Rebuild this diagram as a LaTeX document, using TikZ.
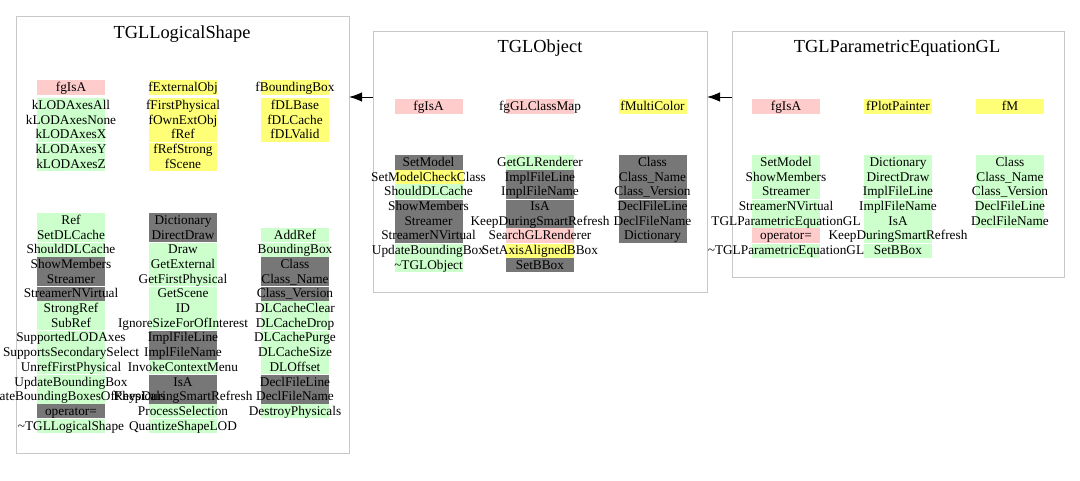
\documentclass[tikz,border=0pt]{standalone}
\usepackage{fontspec}
\setmainfont{Liberation Serif}
\usetikzlibrary{arrows.meta}
\pgfdeclarelayer{bg}
\pgfsetlayers{bg,main}
\definecolor{pk}{RGB}{255,204,204}
\definecolor{yl}{RGB}{255,255,119}
\definecolor{gn}{RGB}{204,255,204}
\definecolor{dg}{RGB}{119,119,119}
\definecolor{cbord}{RGB}{200,200,200}
\newcounter{cellno}
\newcommand\mycell[4]{%
  \stepcounter{cellno}%
  \begin{pgfonlayer}{bg}\fill[#3] (#1-34,#2-7.33) rectangle (#1+34,#2+7.33);\end{pgfonlayer}
  \node[lbl] (c\arabic{cellno}) at (#1,#2+4.3) {#4};}
\newcommand\mycol[3]{%
  \foreach \cellc/\cellt [count=\ii from 0] in {#3} {\mycell{#1}{#2+7.33+\ii*14.67}{\cellc}{\cellt}}}
\tikzset{
  lbl/.style={anchor=base, inner sep=0pt, font=\fontsize{13.3}{15}\selectfont},
  ttl/.style={anchor=base, inner sep=0pt, font=\fontsize{18.4}{20}\selectfont},
  frame/.style={draw=cbord, line width=1pt, inner sep=0pt, outer sep=0pt, anchor=north west},
  arr/.style={-{Latex[length=13pt,width=9.5pt]}, line width=1pt, black},
  gapline/.style={white, line width=0.8pt}
}
\begin{document}
\begin{tikzpicture}[x=1pt,y=-1pt]
\begin{pgfonlayer}{bg}
\fill[white] (0,0) rectangle (1080,480);
\end{pgfonlayer}
\useasboundingbox (0,0) rectangle (1080,480);
% boxes
\node[frame, minimum width=333pt, minimum height=437pt] (shapebox) at (16,16) {};
\node[frame, minimum width=334pt, minimum height=261pt] (objbox) at (373,31) {};
\node[frame, minimum width=332pt, minimum height=245.5pt] (parbox) at (732,31.5) {};
% titles
\node[ttl] (t1) at (182,38.3) {TGLLogicalShape};
\node[ttl] (t2) at (540,52.7) {TGLObject};
\node[ttl] (t3) at (897,52.7) {TGLParametricEquationGL};
% arrows
\coordinate (ay) at (0,97);
\draw[arr] (objbox.west |- ay) -- (shapebox.east |- ay);
\draw[arr] (parbox.west |- ay) -- (objbox.east |- ay);
% ---- TGLLogicalShape
\mycell{71}{87.33}{pk}{fgIsA}
\mycol{71}{98}{gn/kLODAxesAll,gn/kLODAxesNone,gn/kLODAxesX,gn/kLODAxesY,gn/kLODAxesZ}
\mycell{183}{87.33}{yl}{fExternalObj}
\mycol{183}{98}{yl/fFirstPhysical,yl/fOwnExtObj,yl/fRef,yl/fRefStrong,yl/fScene}
\mycell{295}{87.33}{yl}{fBoundingBox}
\mycol{295}{98}{yl/fDLBase,yl/fDLCache,yl/fDLValid}
\mycol{71}{213}{gn/Ref,gn/SetDLCache,gn/ShouldDLCache,dg/ShowMembers,dg/Streamer,dg/StreamerNVirtual,gn/StrongRef,gn/SubRef,gn/SupportedLODAxes,gn/SupportsSecondarySelect,gn/UnrefFirstPhysical,gn/UpdateBoundingBox,gn/UpdateBoundingBoxesOfPhysicals,dg/operator=,gn/\textasciitilde TGLLogicalShape}
\mycol{183}{213}{dg/Dictionary,dg/DirectDraw,gn/Draw,gn/GetExternal,gn/GetFirstPhysical,gn/GetScene,gn/ID,gn/IgnoreSizeForOfInterest,dg/ImplFileLine,dg/ImplFileName,gn/InvokeContextMenu,dg/IsA,dg/KeepDuringSmartRefresh,gn/ProcessSelection,gn/QuantizeShapeLOD}
\mycol{295}{227.67}{gn/AddRef,gn/BoundingBox,dg/Class,dg/Class\_Name,dg/Class\_Version,gn/DLCacheClear,gn/DLCacheDrop,gn/DLCachePurge,gn/DLCacheSize,gn/DLOffset,dg/DeclFileLine,dg/DeclFileName,gn/DestroyPhysicals}
% ---- TGLObject
\mycell{428.5}{106.33}{pk}{fgIsA}
\mycell{540}{106.33}{pk}{fgGLClassMap}
\mycell{652.5}{106.33}{yl}{fMultiColor}
\mycol{428.5}{155}{dg/SetModel,yl/SetModelCheckClass,gn/ShouldDLCache,dg/ShowMembers,dg/Streamer,dg/StreamerNVirtual,gn/UpdateBoundingBox,gn/\textasciitilde TGLObject}
\mycol{540}{155}{gn/GetGLRenderer,dg/ImplFileLine,dg/ImplFileName,dg/IsA,dg/KeepDuringSmartRefresh,pk/SearchGLRenderer,yl/SetAxisAlignedBBox,dg/SetBBox}
\mycol{652.5}{155}{dg/Class,dg/Class\_Name,dg/Class\_Version,dg/DeclFileLine,dg/DeclFileName,dg/Dictionary}
% ---- TGLParametricEquationGL
\mycell{786}{106.33}{pk}{fgIsA}
\mycell{898}{106.33}{yl}{fPlotPainter}
\mycell{1010}{106.33}{yl}{fM}
\mycol{786}{155}{gn/SetModel,gn/ShowMembers,gn/Streamer,gn/StreamerNVirtual,gn/TGLParametricEquationGL,pk/operator=,gn/\textasciitilde TGLParametricEquationGL}
\mycol{898}{155}{gn/Dictionary,gn/DirectDraw,gn/ImplFileLine,gn/ImplFileName,gn/IsA,gn/KeepDuringSmartRefresh,gn/SetBBox}
\mycol{1010}{155}{gn/Class,gn/Class\_Name,gn/Class\_Version,gn/DeclFileLine,gn/DeclFileName}
% thin separators between cell groups
\begin{pgfonlayer}{bg}
\draw[gapline] (37,142) -- (105,142) (149,142) -- (217,142);
\foreach \gy in {242.33,286.33,330.33,374.33,418.33}
  \draw[gapline] (37,\gy) -- (105,\gy) (149,\gy) -- (217,\gy) (261,\gy) -- (329,\gy);
\foreach \gy in {199,243}
  \draw[gapline] (394.5,\gy) -- (462.5,\gy) (506,\gy) -- (574,\gy) (618.5,\gy) -- (686.5,\gy)
                 (752,\gy) -- (820,\gy) (864,\gy) -- (932,\gy) (976,\gy) -- (1044,\gy);
\end{pgfonlayer}
\end{tikzpicture}
\end{document}
